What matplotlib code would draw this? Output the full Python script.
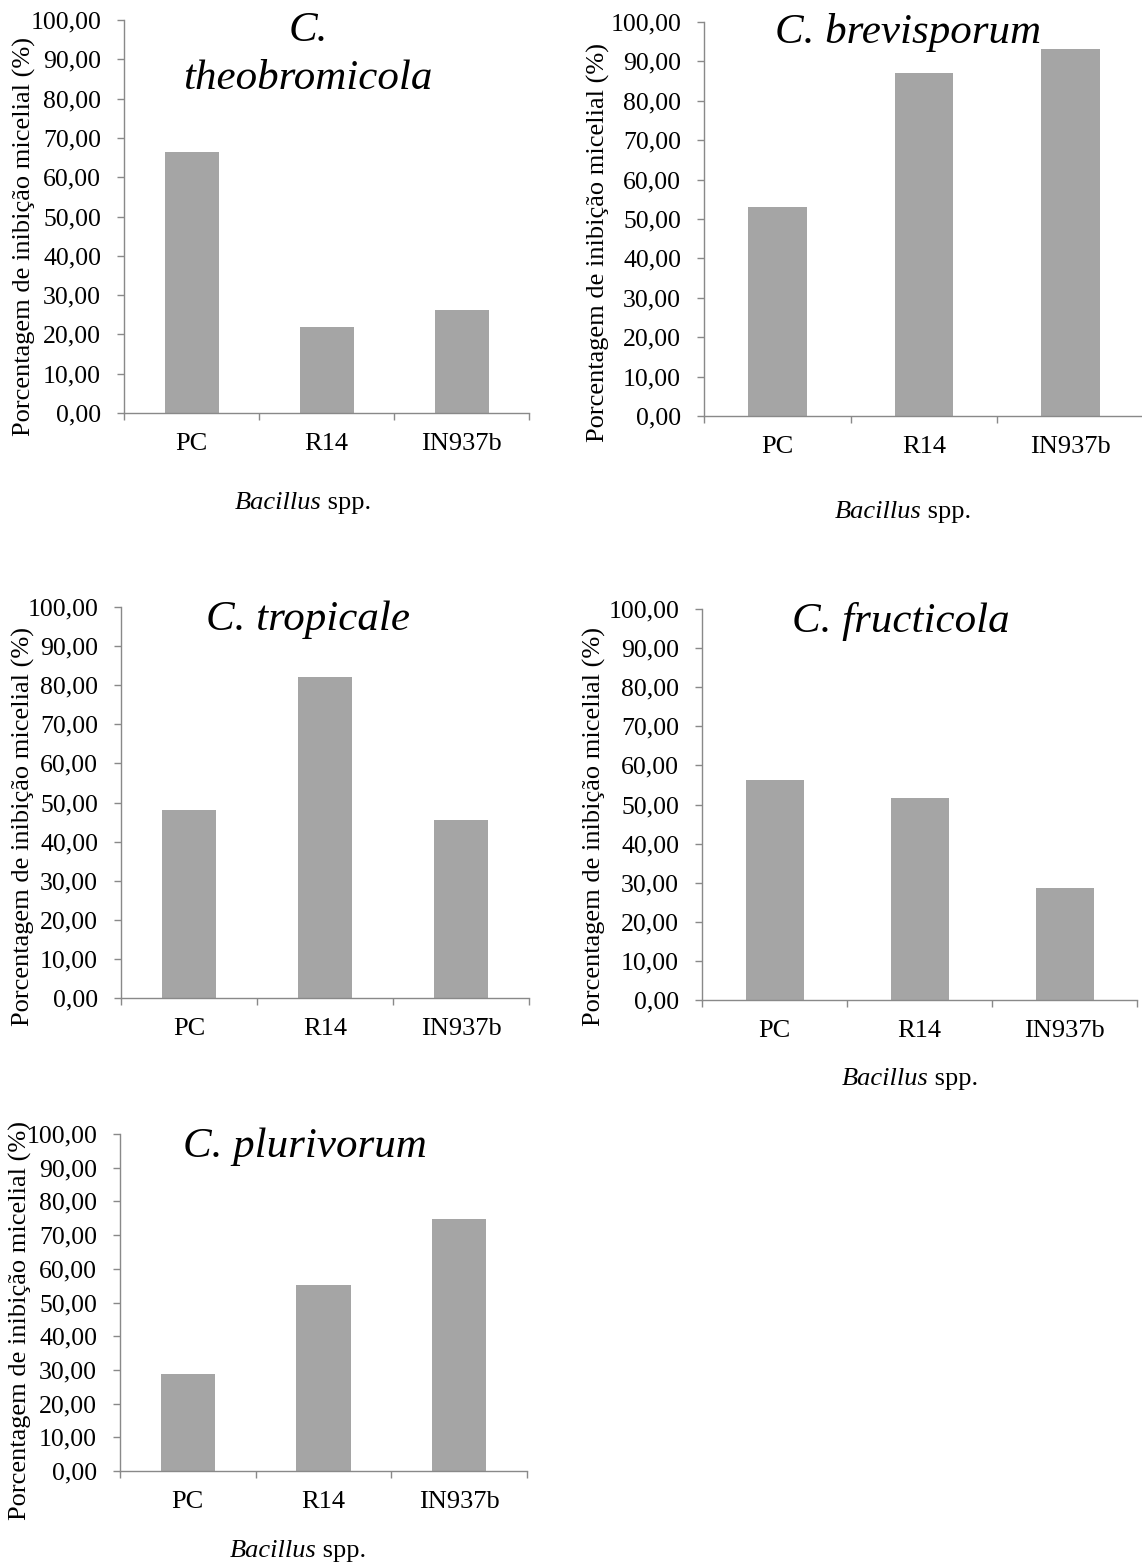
import matplotlib
matplotlib.use("Agg")
import matplotlib.pyplot as plt
import numpy as np

# Inhibition of mycelial growth (%) by three Bacillus isolates
strains = ["PC", "R14", "IN937b"]
species = ["C. theobromicola", "C. brevisporum", "C. tropicale",
           "C. fructicola", "C. plurivorum"]
theobromicola = [66.4, 21.8, 26.3]
brevisporum = [53.0, 87.0, 93.2]
tropicale = [48.1, 82.0, 45.6]
fructicola = [56.3, 51.7, 28.7]
plurivorum = [28.8, 55.1, 74.7]
series = [theobromicola, brevisporum, tropicale, fructicola, plurivorum]

y_ticks = list(range(0, 101, 10))
y_ticklabels = [f"{v:.2f}".replace(".", ",") for v in y_ticks]
ylabel = "Porcentagem de inibição micelial (%)"
xlabel_italic = "Bacillus"
xlabel_rest = " spp."

W, H = 1142, 1567
plt.rcParams["font.family"] = ["Liberation Serif", "DejaVu Serif"]
fig = plt.figure(figsize=(W / 100, H / 100), dpi=100)

BAR = "#a5a5a5"
AXC = "#898989"


def px_rect(l, t, r, b):
    return [l / W, 1 - b / H, (r - l) / W, (b - t) / H]


def ftext(x, y, s, **kw):
    return fig.text(x / W, 1 - y / H, s, **kw)


# plot boxes (left, top, right, bottom) in pixels
boxes = [
    (124, 20, 529, 413),
    (704, 22, 1144, 416),
    (121, 607, 529, 998),
    (702, 609, 1137, 1000),
    (120, 1134, 527, 1471),
]
# title: (x centre, [(line, baseline), ...])
titles = [
    (308, [("C.", 41), ("theobromicola", 89)]),
    (908, [("C. brevisporum", 43)]),
    (308, [("C. tropicale", 630)]),
    (901, [("C. fructicola", 632)]),
    (305, [("C. plurivorum", 1157)]),
]
ylabel_pos = [(24, 237), (598, 242), (23, 826), (594, 827), (20, 1320)]
xlabel_pos = [(303, 503), (903, 512), None, (910, 1079), (298, 1551)]

for i, vals in enumerate(series):
    ax = fig.add_axes(px_rect(*boxes[i]))
    x = np.arange(len(strains))
    ax.bar(x, vals, width=0.4, color=BAR, zorder=2)
    ax.set_xlim(-0.5, len(strains) - 0.5)
    ax.set_ylim(0, 100)
    for s in ("top", "right"):
        ax.spines[s].set_visible(False)
    for s in ("left", "bottom"):
        ax.spines[s].set_color(AXC)
        ax.spines[s].set_linewidth(1.0)
    ax.set_yticks(y_ticks)
    ax.set_yticklabels(y_ticklabels, fontsize=18.5)
    ax.tick_params(axis="y", direction="out", length=5, width=1.0,
                   color=AXC, pad=11.5)
    ax.set_xticks(x)
    ax.set_xticklabels(strains, fontsize=19)
    ax.set_xticks(np.arange(-0.5, len(strains)), minor=True)
    ax.tick_params(axis="x", which="major", length=0, pad=14.5)
    ax.tick_params(axis="x", which="minor", direction="out", length=5,
                   width=1.0, color=AXC)

    cx, lines = titles[i]
    for txt, base in lines:
        ftext(cx, base, txt, fontsize=31, style="italic",
              ha="center", va="baseline")

    lx, ly = ylabel_pos[i]
    ftext(lx, ly, ylabel, fontsize=19, rotation=90,
          ha="center", va="center")

    if xlabel_pos[i] is not None:
        bx, by = xlabel_pos[i]
        ftext(bx, by, xlabel_italic, fontsize=19, style="italic",
              ha="right", va="center")
        ftext(bx, by, xlabel_rest, fontsize=19, ha="left", va="center")

# shift the two-part x labels so the pair is centred on its anchor
fig.canvas.draw()
r = fig.canvas.get_renderer()
texts = fig.texts
k = 0
while k < len(texts):
    t = texts[k]
    if t.get_text() == xlabel_italic and k + 1 < len(texts):
        a = t.get_window_extent(r).width
        b = texts[k + 1].get_window_extent(r).width
        shift = (a - b) / 2 / W
        for tt in (t, texts[k + 1]):
            px, py = tt.get_position()
            tt.set_position((px + shift, py))
        k += 2
    else:
        k += 1

fig.savefig("out.png", dpi=100, facecolor="white")
